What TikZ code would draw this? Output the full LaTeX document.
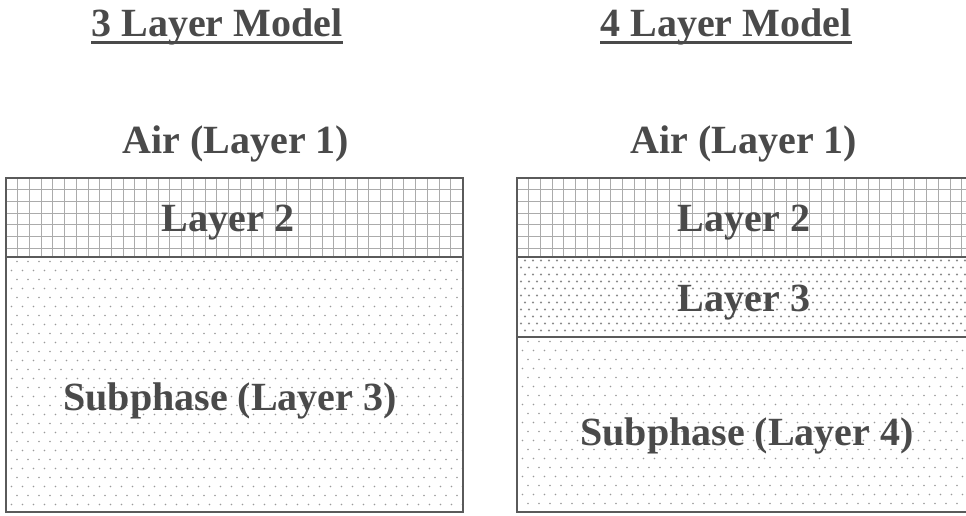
\documentclass[tikz,border=0pt]{standalone}
\usepackage{fontspec}
\setmainfont{Liberation Serif}
\usetikzlibrary{calc}
\definecolor{ink}{HTML}{4A4A4A}
\definecolor{gridc}{HTML}{ABABAB}
\definecolor{dotc}{HTML}{9A9A9A}
\definecolor{dotd}{HTML}{8A8A8A}
\definecolor{edge}{HTML}{5A5A5A}
\tikzset{
  lbl/.style={anchor=base, inner sep=0pt, text=ink, font=\fontsize{40}{48}\selectfont\bfseries},
  frame/.style={draw=edge, line width=1.6pt},
  iface/.style={draw=edge, line width=2.4pt},
  gridline/.style={draw=gridc, line width=0.7pt},
}
% staggered dots over a rectangle: #1,#2 top-left, #3,#4 bottom-right, #5 dx, #6 dy, #7 radius, #8 colour
\newcommand{\dotfield}[8]{%
  \begin{scope}
    \clip (#1,#2) rectangle (#3,#4);
    \pgfmathtruncatemacro{\nx}{(#3-#1)/#5+1}
    \pgfmathtruncatemacro{\ny}{(#4-#2)/#6+1}
    \foreach \j in {0,...,\ny}{
      \pgfmathsetmacro{\off}{mod(\j,2)*#5/2}
      \foreach \i in {0,...,\nx}{
        \fill[#8] ({#1+\off+\i*#5},{#2+#6/2+\j*#6}) circle (#7);
      }
    }
  \end{scope}}
% square grid over a rectangle: #1,#2 top-left, #3,#4 bottom-right, #5 cell size
\newcommand{\gridfield}[5]{%
  \begin{scope}
    \clip (#1,#2) rectangle (#3,#4);
    \pgfmathtruncatemacro{\gx}{(#3-#1)/#5+1}
    \pgfmathtruncatemacro{\gy}{(#4-#2)/#5+1}
    \foreach \i in {0,...,\gx} \draw[gridline] ({#1+\i*#5},#2) -- ({#1+\i*#5},#4);
    \foreach \i in {0,...,\gy} \draw[gridline] (#1,{#2+\i*#5}) -- (#3,{#2+\i*#5});
  \end{scope}}
\begin{document}
\begin{tikzpicture}[x=1pt,y=-1pt]
\useasboundingbox (0,0) rectangle (966,515);
\fill[white] (0,0) rectangle (966,515);

% --- three-layer model ---
\gridfield{6}{178}{463}{257}{11.7}
\dotfield{6}{257}{463}{512}{11}{9}{0.9pt}{dotc}
\draw[frame] (6,178) rectangle (463,512);
\draw[iface] (6,257) -- (463,257);

% --- four-layer model ---
\begin{scope}
\clip (0,0) rectangle (966,515);
\gridfield{517}{178}{975}{257}{11.7}
\dotfield{517}{257}{975}{337}{8}{7}{1.2pt}{dotd}
\dotfield{517}{337}{975}{512}{11}{9}{0.9pt}{dotc}
\draw[frame] (517,178) rectangle (972,512);
\draw[iface] (517,257) -- (975,257);
\draw[iface] (517,337) -- (975,337);
\end{scope}

% --- labels ---
\node[lbl] (t3) at (217,36) {3 Layer Model};
\node[lbl] (t4) at (726,36) {4 Layer Model};
\draw[draw=ink, line width=2.6pt] ($(t3.base west)+(0,6.5)$) coordinate (u3a) -- ($(t3.base east)+(0,6.5)$) coordinate (u3b);
\draw[draw=ink, line width=2.6pt] ($(t4.base west)+(0,6.5)$) coordinate (u4a) -- ($(t4.base east)+(0,6.5)$) coordinate (u4b);

\node[lbl] (air3) at (236,153) {Air (Layer 1)};
\node[lbl] (air4) at (744,153) {Air (Layer 1)};
\node[lbl] (l2a) at (228,231) {Layer 2};
\node[lbl] (l2b) at (744,231) {Layer 2};
\node[lbl] (l3b) at (744,311) {Layer 3};
\node[lbl] (sub3) at (230,410) {Subphase (Layer 3)};
\node[lbl] (sub4) at (747,445) {Subphase (Layer 4)};
\end{tikzpicture}
\end{document}
